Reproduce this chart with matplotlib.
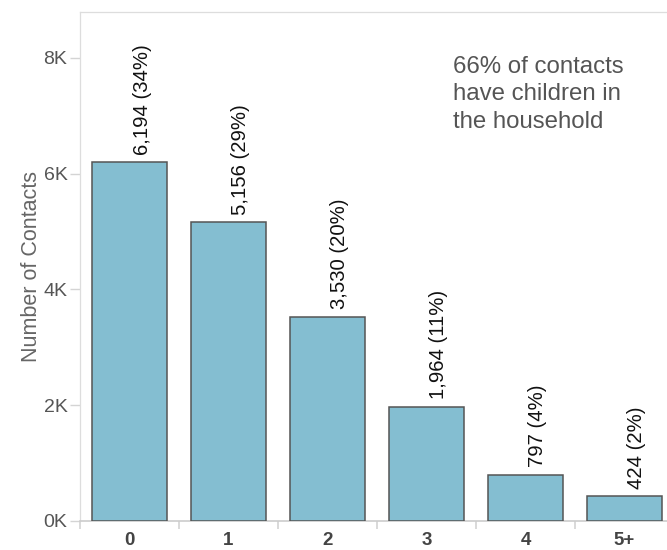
from matplotlib import pyplot as plt
import numpy as np

# children in household -> number of contacts
categories = ['0', '1', '2', '3', '4', '5+']
counts = [6194, 5156, 3530, 1964, 797, 424]
percents = [34, 29, 20, 11, 4, 2]
y_ticks = [0, 2000, 4000, 6000, 8000]
y_tick_labels = ['0K', '2K', '4K', '6K', '8K']
note = '66% of contacts\nhave children in\nthe household'

plt.rcParams['font.family'] = ['Liberation Sans', 'DejaVu Sans']

fig = plt.figure(figsize=(6.67, 5.5), dpi=100)
# plot area runs a bit past the right edge of the picture, like the original
ax = fig.add_axes([80/667, 29.3/550, 594/667, 508.7/550])

x = np.arange(len(categories))
ax.bar(x, counts, width=0.76, color='#84bed1', edgecolor='#555555', linewidth=1.1, zorder=3)

for xi, c, p in zip(x, counts, percents):
    ax.annotate('{:,} ({}%)'.format(c, p), (xi, c), xytext=(9, 5.5), textcoords='offset points',
                rotation=90, ha='center', va='bottom', fontsize=14.6, color='#111111')

ax.set_xlim(-0.5, 5.5)
ax.set_ylim(0, 8795)

ax.set_yticks(y_ticks)
ax.set_yticklabels(y_tick_labels)
ax.set_xticks(x)
ax.set_xticklabels(categories, fontweight='bold')
ax.set_xticks(np.arange(-0.5, 6, 1), minor=True)

ax.tick_params(axis='y', length=7, width=1, color='#d4d4d4', pad=2, labelsize=14, labelcolor='#555555')
ax.tick_params(axis='x', which='major', length=0, pad=8, labelsize=13.5, labelcolor='#444444')
ax.tick_params(axis='x', which='minor', length=6, width=1.1, color='#d0d0d0')

for side in ['left', 'top', 'right']:
    ax.spines[side].set_color('#dddddd')
    ax.spines[side].set_linewidth(0.9)
ax.spines['bottom'].set_color('#cccccc')
ax.spines['bottom'].set_linewidth(1.2)

ax.set_ylabel('Number of Contacts', fontsize=15.5, color='#666666', labelpad=1)

ax.text(0.628, 0.914, note, transform=ax.transAxes, ha='left', va='top',
        fontsize=17.3, color='#555555', linespacing=1.32)

fig.savefig('out.png', dpi=100)
